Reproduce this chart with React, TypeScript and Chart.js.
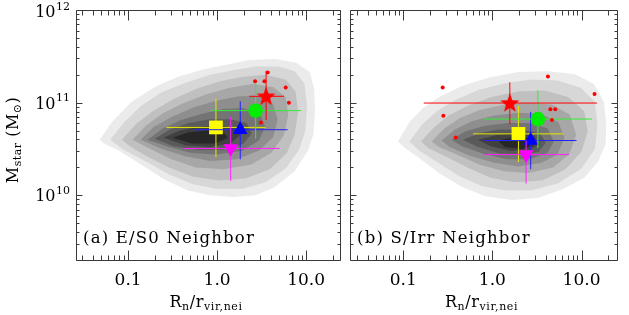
import React, { useEffect, useRef } from 'react';
import { Chart, registerables } from 'chart.js';

Chart.register(...registerables);

const SERIF = '"DejaVu Serif", "Liberation Serif", serif';

// ---------- axes ----------
const yMin = 2e9;
const yMax = 1e12;
const xRangeA = [0.026, 24];
const xRangeB = [0.0253, 25];
const xTickValues = [0.1, 1, 10];
const xTickLabels = ['0.1', '1.0', '10.0'];
const yTickExponents = [10, 11, 12];

// ---------- samples (yellow square, blue up-triangle, magenta down-triangle, green circle, red star) ----------
const sampleColors = ['#ffff00', '#0000ff', '#ff00ff', '#00ee00', '#ff0000'];
const sampleBarColors = ['#e8e800', '#2222ff', '#ff22ff', '#33ee33', '#ff0000'];
const sampleStyles = ['rect', 'triangle', 'triangle', 'circle', 'star'];
const sampleRotations = [0, 0, 180, 0, 0];
const sampleRadii = [9.7, 8.4, 8.4, 7.2, 10];

// panel (a) E/S0 neighbor
const aR = [0.97, 1.82, 1.42, 2.71, 3.55];
const aRlo = [0.27, 0.557, 0.42, 0.85, 2.29];
const aRhi = [3.49, 6.2, 5.06, 8.8, 5.63];
const aM = [5.4e10, 5.1e10, 3.2e10, 8.2e10, 1.17e11];
const aMlo = [2.58e10, 2.44e10, 1.43e10, 4.1e10, 6.5e10];
const aMhi = [1.1e11, 1.03e11, 7.0e10, 1.66e11, 2.2e11];
const aDotR = [2.67, 3.4, 3.7, 5.89, 6.4, 3.1];
const aDotM = [1.7e11, 1.7e11, 2.12e11, 1.46e11, 1.0e11, 6.1e10];

// panel (b) S/Irr neighbor
const bR = [1.96, 2.69, 2.39, 3.24, 1.57];
const bRlo = [0.61, 0.81, 0.81, 0.81, 0.17];
const bRhi = [6.3, 8.8, 7.24, 13.1, 14.9];
const bM = [4.6e10, 3.9e10, 2.75e10, 6.65e10, 9.9e10];
const bMlo = [2.29e10, 1.91e10, 1.34e10, 3.24e10, 5.8e10];
const bMhi = [9.2e10, 7.96e10, 3.9e10, 1.36e11, 1.66e11];
const bDotR = [0.277, 0.282, 0.388, 4.2, 4.47, 5.07, 4.66, 14.0];
const bDotM = [1.46e11, 7.2e10, 4.2e10, 1.91e11, 8.5e10, 8.5e10, 6.5e10, 1.24e11];

// ---------- density contours: closed outlines, [log10 R, log10 Mstar], starting at the left tip ----------
const contourGreys = ['#ebebeb', '#d7d7d7', '#c0c0c0', '#a7a7a7', '#8e8e8e', '#747474', '#5a5a5a', '#404040', '#272727'];

const contoursA: number[][][] = [
  [[-1.32, 10.6], [-1.18, 10.79], [-0.96, 11.01], [-0.7, 11.17], [-0.44, 11.28], [-0.15, 11.36], [0.1, 11.41], [0.36, 11.46], [0.65, 11.47], [0.89, 11.43], [1.04, 11.33], [1.09, 11.15], [1.1, 10.9], [1.08, 10.65], [1.02, 10.48], [0.87, 10.26], [0.65, 10.09], [0.43, 10.0], [0.18, 9.98], [-0.08, 10.0], [-0.33, 10.05], [-0.59, 10.17], [-0.85, 10.33], [-1.1, 10.48], [-1.27, 10.56]],
  [[-1.2, 10.6], [-1.05, 10.78], [-0.86, 10.96], [-0.63, 11.11], [-0.37, 11.21], [-0.08, 11.3], [0.18, 11.35], [0.43, 11.39], [0.69, 11.39], [0.87, 11.34], [0.98, 11.21], [1.01, 10.97], [0.99, 10.69], [0.92, 10.49], [0.77, 10.29], [0.54, 10.14], [0.29, 10.07], [-0.01, 10.07], [-0.27, 10.12], [-0.53, 10.22], [-0.79, 10.36], [-1.05, 10.49]],
  [[-1.07, 10.6], [-0.91, 10.77], [-0.72, 10.91], [-0.49, 11.04], [-0.23, 11.15], [0.03, 11.23], [0.29, 11.28], [0.54, 11.3], [0.77, 11.25], [0.88, 11.12], [0.91, 10.9], [0.87, 10.65], [0.78, 10.45], [0.59, 10.28], [0.32, 10.18], [0.03, 10.16], [-0.27, 10.2], [-0.54, 10.3], [-0.79, 10.42], [-0.97, 10.52]],
  [[-0.95, 10.6], [-0.8, 10.75], [-0.6, 10.89], [-0.37, 11.0], [-0.12, 11.09], [0.14, 11.16], [0.4, 11.2], [0.63, 11.17], [0.77, 11.06], [0.8, 10.87], [0.75, 10.65], [0.61, 10.46], [0.38, 10.33], [0.07, 10.28], [-0.24, 10.3], [-0.51, 10.39], [-0.75, 10.5]],
  [[-0.86, 10.6], [-0.71, 10.74], [-0.5, 10.85], [-0.26, 10.95], [-0.01, 11.02], [0.24, 11.07], [0.47, 11.07], [0.63, 10.98], [0.68, 10.82], [0.63, 10.63], [0.47, 10.48], [0.22, 10.39], [-0.08, 10.37], [-0.36, 10.42], [-0.62, 10.5]],
  [[-0.78, 10.6], [-0.61, 10.72], [-0.41, 10.81], [-0.17, 10.88], [0.07, 10.93], [0.3, 10.94], [0.48, 10.88], [0.54, 10.74], [0.47, 10.59], [0.28, 10.48], [-0.01, 10.44], [-0.3, 10.46], [-0.57, 10.53]],
  [[-0.7, 10.61], [-0.53, 10.71], [-0.32, 10.78], [-0.08, 10.82], [0.15, 10.82], [0.33, 10.78], [0.39, 10.67], [0.29, 10.55], [0.06, 10.49], [-0.22, 10.49], [-0.49, 10.53]],
  [[-0.6, 10.62], [-0.42, 10.7], [-0.2, 10.74], [0.02, 10.75], [0.2, 10.73], [0.26, 10.65], [0.15, 10.56], [-0.08, 10.52], [-0.36, 10.54]],
  [[-0.5, 10.62], [-0.32, 10.68], [-0.12, 10.7], [0.06, 10.69], [0.12, 10.62], [-0.02, 10.56], [-0.28, 10.56]],
];

const contoursB: number[][][] = [
  [[-1.06, 10.58], [-0.93, 10.79], [-0.78, 10.94], [-0.6, 11.06], [-0.34, 11.18], [-0.04, 11.27], [0.29, 11.33], [0.62, 11.34], [0.92, 11.31], [1.14, 11.2], [1.25, 11.01], [1.28, 10.76], [1.27, 10.55], [1.19, 10.37], [1.03, 10.19], [0.8, 10.07], [0.51, 9.97], [0.22, 9.95], [-0.08, 9.99], [-0.34, 10.09], [-0.6, 10.24], [-0.82, 10.4], [-0.98, 10.51]],
  [[-0.93, 10.58], [-0.79, 10.76], [-0.62, 10.91], [-0.41, 11.03], [-0.15, 11.14], [0.14, 11.21], [0.44, 11.25], [0.73, 11.24], [0.99, 11.16], [1.15, 11.01], [1.18, 10.76], [1.15, 10.5], [1.0, 10.29], [0.74, 10.13], [0.44, 10.05], [0.14, 10.05], [-0.12, 10.1], [-0.38, 10.21], [-0.62, 10.36], [-0.82, 10.48]],
  [[-0.8, 10.58], [-0.66, 10.73], [-0.49, 10.86], [-0.27, 10.97], [-0.01, 11.06], [0.29, 11.12], [0.58, 11.13], [0.85, 11.06], [1.03, 10.91], [1.07, 10.69], [1.0, 10.47], [0.82, 10.28], [0.56, 10.16], [0.25, 10.14], [-0.02, 10.19], [-0.28, 10.3], [-0.53, 10.42], [-0.72, 10.51]],
  [[-0.68, 10.58], [-0.54, 10.72], [-0.37, 10.83], [-0.14, 10.92], [0.14, 10.98], [0.4, 11.0], [0.67, 10.98], [0.87, 10.87], [0.94, 10.65], [0.86, 10.44], [0.68, 10.3], [0.4, 10.24], [0.13, 10.26], [-0.14, 10.33], [-0.4, 10.44], [-0.6, 10.52]],
  [[-0.57, 10.59], [-0.42, 10.71], [-0.23, 10.8], [0.02, 10.86], [0.29, 10.89], [0.54, 10.88], [0.74, 10.79], [0.81, 10.62], [0.73, 10.44], [0.55, 10.35], [0.29, 10.31], [0.02, 10.35], [-0.26, 10.43], [-0.48, 10.52]],
  [[-0.46, 10.6], [-0.3, 10.69], [-0.08, 10.75], [0.17, 10.78], [0.42, 10.78], [0.62, 10.72], [0.69, 10.58], [0.62, 10.46], [0.42, 10.39], [0.16, 10.39], [-0.11, 10.45], [-0.34, 10.53]],
  [[-0.33, 10.6], [-0.15, 10.67], [0.07, 10.71], [0.33, 10.71], [0.53, 10.67], [0.6, 10.57], [0.52, 10.47], [0.33, 10.44], [0.08, 10.45], [-0.16, 10.52]],
  [[-0.16, 10.6], [0.05, 10.65], [0.29, 10.67], [0.47, 10.64], [0.52, 10.55], [0.42, 10.49], [0.2, 10.48], [-0.02, 10.53]],
  [[0.06, 10.59], [0.27, 10.63], [0.43, 10.61], [0.46, 10.54], [0.34, 10.5], [0.14, 10.52]],
];

type Panel = {
  label: string;
  xRange: number[];
  R: number[]; Rlo: number[]; Rhi: number[];
  M: number[]; Mlo: number[]; Mhi: number[];
  dotR: number[]; dotM: number[];
  contours: number[][][];
  yLabels: boolean;
};

const panelA: Panel = {
  label: '(a) E/S0 Neighbor', xRange: xRangeA,
  R: aR, Rlo: aRlo, Rhi: aRhi, M: aM, Mlo: aMlo, Mhi: aMhi,
  dotR: aDotR, dotM: aDotM, contours: contoursA, yLabels: true,
};
const panelB: Panel = {
  label: '(b) S/Irr Neighbor', xRange: xRangeB,
  R: bR, Rlo: bRlo, Rhi: bRhi, M: bM, Mlo: bMlo, Mhi: bMhi,
  dotR: bDotR, dotM: bDotM, contours: contoursB, yLabels: false,
};

function splitOutline(poly: number[][]) {
  let k = 0;
  poly.forEach((p, i) => { if (p[0] > poly[k][0]) k = i; });
  const top = poly.slice(0, k + 1);
  const bottom = [poly[0], ...poly.slice(k + 1).reverse(), poly[k]];
  const toXY = (arr: number[][]) => arr.map(([lr, lm]) => ({ x: Math.pow(10, lr), y: Math.pow(10, lm) }));
  return { top: toXY(top), bottom: toXY(bottom) };
}

function makeStar(color: string, R: number, r: number) {
  const c = document.createElement('canvas');
  const s = Math.ceil(2 * R + 2);
  c.width = s; c.height = s;
  const g = c.getContext('2d')!;
  g.fillStyle = color;
  g.beginPath();
  for (let k = 0; k < 10; k++) {
    const rad = k % 2 === 0 ? R : r;
    const ang = -Math.PI / 2 + (k * Math.PI) / 5;
    const px = s / 2 + rad * Math.cos(ang);
    const py = s / 2 + 0.6 + rad * Math.sin(ang);
    if (k === 0) g.moveTo(px, py); else g.lineTo(px, py);
  }
  g.closePath();
  g.fill();
  return c;
}

function logTicks(min: number, max: number) {
  const out: { v: number; major: boolean }[] = [];
  for (let e = Math.floor(Math.log10(min)); e <= Math.ceil(Math.log10(max)); e++) {
    for (let m = 1; m <= 9; m++) {
      const v = m * Math.pow(10, e);
      if (v >= min * 0.9999 && v <= max * 1.0001) out.push({ v, major: m === 1 });
    }
  }
  return out;
}

type Run = { t: string; s: number; dy?: number };
function drawRuns(ctx: CanvasRenderingContext2D, runs: Run[], x: number, y: number, spacing: string) {
  (ctx as any).letterSpacing = spacing;
  let w = 0;
  for (const r of runs) { ctx.font = `${r.s}px ${SERIF}`; w += ctx.measureText(r.t).width; }
  let cx = x - w / 2;
  ctx.textAlign = 'left';
  ctx.textBaseline = 'alphabetic';
  for (const r of runs) {
    ctx.font = `${r.s}px ${SERIF}`;
    ctx.fillText(r.t, cx, y + (r.dy || 0));
    cx += ctx.measureText(r.t).width;
  }
  (ctx as any).letterSpacing = '0px';
}

function decorPlugin(panel: Panel) {
  return {
    id: 'decor',
    afterDraw(chart: any) {
      const { ctx, chartArea: a } = chart;
      const xs = chart.scales.x;
      const ys = chart.scales.y;
      const L = Math.round(a.left) + 0.5;
      const Rr = Math.round(a.right) + 0.5;
      const T = Math.round(a.top) + 0.5;
      const B = Math.round(a.bottom) + 0.5;
      ctx.save();
      ctx.strokeStyle = '#3a3a3a';
      ctx.lineWidth = 1;
      ctx.beginPath();
      ctx.rect(L, T, Rr - L, B - T);
      for (const t of logTicks(xs.min, xs.max)) {
        const px = Math.round(xs.getPixelForValue(t.v)) + 0.5;
        const len = t.major ? 10 : 5;
        ctx.moveTo(px, B); ctx.lineTo(px, B - len);
        ctx.moveTo(px, T); ctx.lineTo(px, T + len);
      }
      for (const t of logTicks(ys.min, ys.max)) {
        const py = Math.round(ys.getPixelForValue(t.v)) + 0.5;
        const len = t.major ? 6 : 3;
        ctx.moveTo(L, py); ctx.lineTo(L + len, py);
        ctx.moveTo(Rr, py); ctx.lineTo(Rr - len, py);
      }
      ctx.stroke();

      ctx.fillStyle = '#000';
      // panel label
      ctx.font = `16.5px ${SERIF}`;
      (ctx as any).letterSpacing = '1.2px';
      ctx.textAlign = 'left';
      ctx.textBaseline = 'alphabetic';
      ctx.fillText(panel.label, a.left + 7, 243);
      (ctx as any).letterSpacing = '0px';

      // x title
      const cxT = (a.left + a.right) / 2 - 2;
      drawRuns(ctx, [
        { t: 'R', s: 16 }, { t: 'n', s: 11, dy: 3 }, { t: '/r', s: 16 }, { t: 'vir,nei', s: 11, dy: 3 },
      ], cxT, 307, '0.6px');

      if (panel.yLabels) {
        for (const e of yTickExponents) {
          const py = ys.getPixelForValue(Math.pow(10, e));
          const cy = Math.max(py + 2, 13);
          ctx.textBaseline = 'middle';
          ctx.font = `11px ${SERIF}`;
          const ew = ctx.measureText(String(e)).width;
          ctx.textAlign = 'left';
          ctx.fillText(String(e), a.left - 6 - ew, cy - 6);
          ctx.font = `16px ${SERIF}`;
          ctx.textAlign = 'right';
          ctx.fillText('10', a.left - 6 - ew - 0.5, cy);
        }
        ctx.save();
        ctx.translate(18, (a.top + a.bottom) / 2 + 5);
        ctx.rotate(-Math.PI / 2);
        drawRuns(ctx, [
          { t: 'M', s: 16 }, { t: 'star', s: 11, dy: 3 }, { t: ' (M', s: 16 }, { t: '\u2299', s: 11, dy: 3 }, { t: ')', s: 16 },
        ], 0, 0, '0.5px');
        ctx.restore();
      }
      ctx.restore();
    },
  };
}

function buildConfig(panel: Panel, star: HTMLCanvasElement, pad: any): any {
  const datasets: any[] = [];
  panel.contours.forEach((poly, li) => {
    const { top, bottom } = splitOutline(poly);
    datasets.push({
      data: top, showLine: true, fill: '+1', backgroundColor: contourGreys[li],
      borderColor: 'rgba(0,0,0,0)', borderWidth: 0, pointRadius: 0, tension: 0, order: 1000 - li,
    });
    datasets.push({
      data: bottom, showLine: true, fill: false, backgroundColor: contourGreys[li],
      borderColor: 'rgba(0,0,0,0)', borderWidth: 0, pointRadius: 0, tension: 0, order: 1000 - li,
    });
  });
  panel.R.forEach((r, i) => {
    const barBase = {
      showLine: true, fill: false, borderColor: sampleBarColors[i], borderWidth: 1,
      pointRadius: 0, tension: 0, order: 100 - 10 * i,
    };
    datasets.push({ ...barBase, data: [{ x: panel.Rlo[i], y: panel.M[i] }, { x: panel.Rhi[i], y: panel.M[i] }] });
    datasets.push({ ...barBase, data: [{ x: r, y: panel.Mlo[i] }, { x: r, y: panel.Mhi[i] }] });
    const style = sampleStyles[i] === 'star' ? star : sampleStyles[i];
    datasets.push({
      data: [{ x: r, y: panel.M[i] }], showLine: false,
      pointStyle: style, pointRadius: sampleRadii[i], pointRotation: sampleRotations[i],
      backgroundColor: sampleColors[i], borderColor: sampleColors[i], borderWidth: 0,
      order: 95 - 10 * i,
    });
    if (i === 4) {
      datasets.push({
        data: panel.dotR.map((x, k) => ({ x, y: panel.dotM[k] })), showLine: false,
        pointStyle: 'circle', pointRadius: 2, backgroundColor: '#ff0000', borderWidth: 0,
        order: 58,
      });
    }
  });

  return {
    type: 'scatter',
    data: { datasets },
    options: {
      animation: false,
      responsive: false,
      devicePixelRatio: 1,
      events: [],
      layout: { padding: pad },
      plugins: { legend: { display: false }, tooltip: { enabled: false } },
      scales: {
        x: {
          type: 'logarithmic', min: panel.xRange[0], max: panel.xRange[1], position: 'bottom',
          grid: { display: false, drawTicks: false, tickLength: 0 },
          border: { display: false },
          ticks: {
            autoSkip: false, maxRotation: 0, minRotation: 0, padding: 10, color: '#000',
            font: { family: SERIF, size: 17 },
            callback: (v: number) => {
              const idx = xTickValues.findIndex((t) => Math.abs(Math.log10(v) - Math.log10(t)) < 1e-6);
              return idx >= 0 ? xTickLabels[idx] : '';
            },
          },
          afterFit: (s: any) => { s.height = 55; },
        },
        y: { type: 'logarithmic', min: yMin, max: yMax, display: false },
      },
    },
    plugins: [decorPlugin(panel)],
  };
}

export default function App() {
  const refA = useRef<HTMLCanvasElement>(null);
  const refB = useRef<HTMLCanvasElement>(null);
  useEffect(() => {
    const star = makeStar('#ff0000', 10, 4.2);
    const ca = new Chart(refA.current!, buildConfig(panelA, star, { left: 76, top: 6, right: 4, bottom: 0 }));
    const cb = new Chart(refB.current!, buildConfig(panelB, star, { left: 6, top: 6, right: 12, bottom: 0 }));
    return () => { ca.destroy(); cb.destroy(); };
  }, []);
  return (
    <div style={{ position: 'absolute', left: 0, top: 0, width: 629, height: 315, background: '#fff' }}>
      <canvas ref={refA} width={350} height={315} style={{ position: 'absolute', left: 0, top: 0, width: 350, height: 315 }} />
      <canvas ref={refB} width={289} height={315} style={{ position: 'absolute', left: 340, top: 0, width: 289, height: 315 }} />
    </div>
  );
}
